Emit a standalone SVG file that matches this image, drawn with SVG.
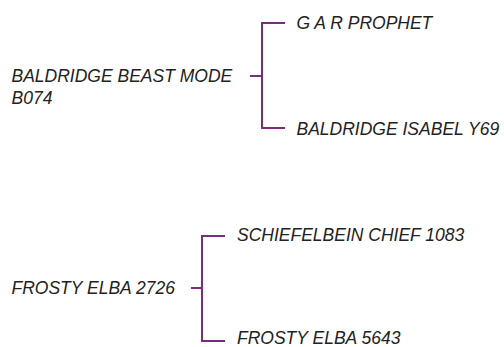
<svg xmlns="http://www.w3.org/2000/svg" width="504" height="347" viewBox="0 0 504 347">
<style>
  .t { font-family: "Liberation Sans", Arial, sans-serif; font-style: italic; font-size: 17.5px; fill: #222222; }
  .c { fill: none; stroke: #7a2c80; stroke-width: 2; }
</style>
<rect width="504" height="347" fill="#ffffff"/>
<g id="connectors">
  <path class="c" d="M250 76 H262 M285 23 H262 V128 H285"/>
  <path class="c" d="M191 288 H202 M225 236 H202 V341 H225"/>
</g>
<g id="node-baldridge-beast-mode">
  <text class="t" x="11.5" y="82">BALDRIDGE BEAST MODE</text>
  <text class="t" x="11.5" y="104">B074</text>
</g>
<g id="node-g-a-r-prophet">
  <text class="t" x="296.5" y="28.5">G A R PROPHET</text>
</g>
<g id="node-baldridge-isabel">
  <text class="t" x="296.5" y="134.5">BALDRIDGE ISABEL Y69</text>
</g>
<g id="node-frosty-elba-2726">
  <text class="t" x="11.5" y="294">FROSTY ELBA 2726</text>
</g>
<g id="node-schiefelbein-chief">
  <text class="t" x="237" y="240.5">SCHIEFELBEIN CHIEF 1083</text>
</g>
<g id="node-frosty-elba-5643">
  <text class="t" x="237" y="344">FROSTY ELBA 5643</text>
</g>
</svg>
